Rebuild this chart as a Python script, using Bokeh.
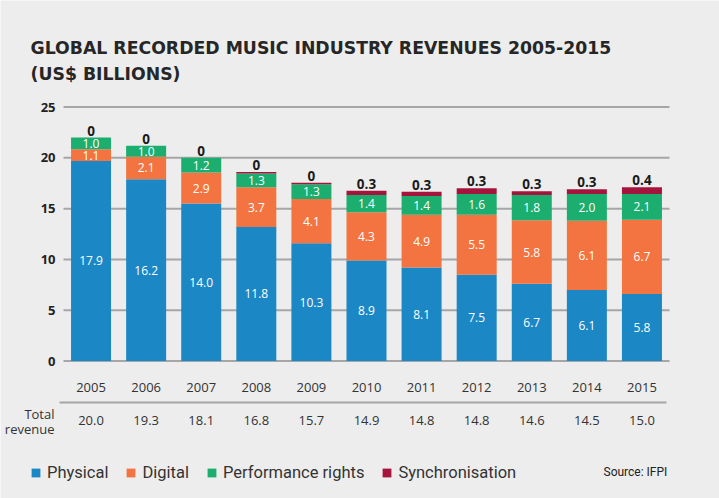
from bokeh.plotting import figure
from bokeh.models import Range1d, ColumnDataSource, Legend, LegendItem
from bokeh.core.properties import value
from bokeh.embed import file_html
from bokeh.resources import INLINE

years = ["2005", "2006", "2007", "2008", "2009", "2010",
         "2011", "2012", "2013", "2014", "2015"]
physical = [17.9, 16.2, 14.0, 11.8, 10.3, 8.9, 8.1, 7.5, 6.7, 6.1, 5.8]
digital = [1.1, 2.1, 2.9, 3.7, 4.1, 4.3, 4.9, 5.5, 5.8, 6.1, 6.7]
performance = [1.0, 1.0, 1.2, 1.3, 1.3, 1.4, 1.4, 1.6, 1.8, 2.0, 2.1]
sync = [0, 0, 0, 0, 0, 0.3, 0.3, 0.3, 0.3, 0.3, 0.4]
total = [20.0, 19.3, 18.1, 16.8, 15.7, 14.9, 14.8, 14.8, 14.6, 14.5, 15.0]
# segment heights as drawn in the reference (the drawing is not exactly to scale)
physical_drawn = [19.7, 17.9, 15.5, 13.2, 11.6, 9.9, 9.2, 8.5, 7.6, 7.0, 6.6]
digital_drawn = [1.15, 2.2, 3.05, 3.9, 4.35, 4.75, 5.2, 5.9, 6.25, 6.8, 7.3]
performance_drawn = [1.15, 1.1, 1.45, 1.35, 1.45, 1.7, 1.85, 2.05, 2.5, 2.65, 2.55]
sync_drawn = [0, 0, 0, 0.15, 0.15, 0.4, 0.4, 0.55, 0.35, 0.45, 0.65]
y_ticks = [0, 5, 10, 15, 20, 25]
series = ["Physical", "Digital", "Performance rights", "Synchronisation"]
title_lines = ["GLOBAL RECORDED MUSIC INDUSTRY REVENUES 2005-2015", "(US$ BILLIONS)"]
row_label = ["Total", "revenue"]
source_note = "Source: IFPI"

BG = "#ededed"
COLORS = ["#1b87c5", "#f37440", "#1bae6e", "#a5143c"]
TXT = "#333333"
GRID = "#a6a6a6"

W, H = 719, 498
N = len(years)
FL, FW = 63, 606          # plot area left / width (px)
PY0, PXU = 360.5, 257 / 25.3  # px of value 0, px per value unit


def X(px):  # canvas pixel -> data x
    return (px - FL) / (FW / N)


def V(py):  # canvas pixel -> data y (value units)
    return (PY0 - py) / PXU


p = figure(width=W, height=H, output_backend="svg", toolbar_location=None,
           x_range=Range1d(X(0), X(W)), y_range=Range1d(V(H), V(0)),
           x_axis_location=None, y_axis_location=None, min_border=0)
p.background_fill_color = BG
p.border_fill_color = BG
p.outline_line_color = None
p.grid.visible = False

# title
p.text(x=[X(30), X(30)], y=[V(47), V(73)], text=title_lines, text_align="left",
       text_baseline="middle", text_color="#262626",
       text_font=value("DejaVu Sans"), text_font_style="bold", text_font_size="17.3px")

# value axis: grid lines and tick labels
p.segment(x0=[X(63)] * len(y_ticks), x1=[X(669)] * len(y_ticks), y0=y_ticks, y1=y_ticks,
          line_color=GRID, line_width=2)
p.text(x=[X(55)] * len(y_ticks), y=y_ticks, text=[str(t) for t in y_ticks],
       text_align="right", text_baseline="middle", text_color="#222222",
       text_font=value("Open Sans"), text_font_style="bold", text_font_size="13px")

xc = [i + 0.5 for i in range(N)]
b1 = [0.0] * N
t1 = [b + h for b, h in zip(b1, physical_drawn)]
t2 = [b + h for b, h in zip(t1, digital_drawn)]
t3 = [b + h for b, h in zip(t2, performance_drawn)]
t4 = [b + h for b, h in zip(t3, sync_drawn)]

src = ColumnDataSource(dict(
    x=xc, b1=b1, t1=t1, t2=t2, t3=t3, t4=t4,
    m1=[(a + b) / 2 for a, b in zip(b1, t1)],
    m2=[(a + b) / 2 for a, b in zip(t1, t2)],
    m3=[(a + b) / 2 for a, b in zip(t2, t3)],
    lp=[f"{v:.1f}" for v in physical],
    ld=[f"{v:.1f}" for v in digital],
    lf=[f"{v:.1f}" for v in performance],
    ls=["0" if v == 0 else f"{v:.1f}" for v in sync],
    yr=years,
    tot=[f"{v:.1f}" for v in total],
    yy=[V(387)] * N,
    yt=[V(420)] * N,
))

BW = 40 / (FW / N)
bars = []
for (bot, top), col in zip((("b1", "t1"), ("t1", "t2"), ("t2", "t3"), ("t3", "t4")), COLORS):
    bars.append(p.vbar(x="x", bottom=bot, top=top, width=BW, fill_color=col,
                       line_color=None, source=src))

for ycol, tcol in (("m1", "lp"), ("m2", "ld"), ("m3", "lf")):
    p.text(x="x", y=ycol, text=tcol, source=src, text_align="center",
           text_baseline="middle", text_color="white",
           text_font=value("Open Sans"), text_font_size="12px")
p.text(x="x", y="t4", text="ls", source=src, y_offset=-2, text_align="center",
       text_baseline="bottom", text_color="#1a1a1a",
       text_font=value("Open Sans"), text_font_style="bold", text_font_size="13.5px")

# year row, separator and total row
p.text(x="x", y="yy", text="yr", source=src, text_align="center", text_baseline="middle",
       text_color=TXT, text_font=value("Open Sans"), text_font_size="13px")
p.segment(x0=[X(59)], x1=[X(666)], y0=[V(402)], y1=[V(402)], line_color=GRID, line_width=2)
p.text(x="x", y="yt", text="tot", source=src, text_align="center", text_baseline="middle",
       text_color=TXT, text_font=value("Open Sans"), text_font_size="13px")
p.text(x=[X(54), X(54)], y=[V(413), V(428)], text=row_label, text_align="right",
       text_baseline="middle", text_color=TXT, text_font=value("Open Sans"),
       text_font_size="13px")
p.text(x=[X(603)], y=[V(471)], text=[source_note], text_align="left", text_baseline="middle",
       text_color="#222222", text_font=value("Roboto"), text_font_size="12px")

legend = Legend(items=[LegendItem(label=s, renderers=[r]) for s, r in zip(series, bars)],
                orientation="horizontal", location=(30, H - 482),
                glyph_width=11, glyph_height=11, label_height=20, label_standoff=6,
                spacing=17, padding=0, margin=0, border_line_color=None,
                background_fill_alpha=0, label_text_font="Roboto",
                label_text_font_size="16.5px", label_text_color=TXT)
p.add_layout(legend, "center")

open("out.html", "w").write(file_html(p, INLINE))
